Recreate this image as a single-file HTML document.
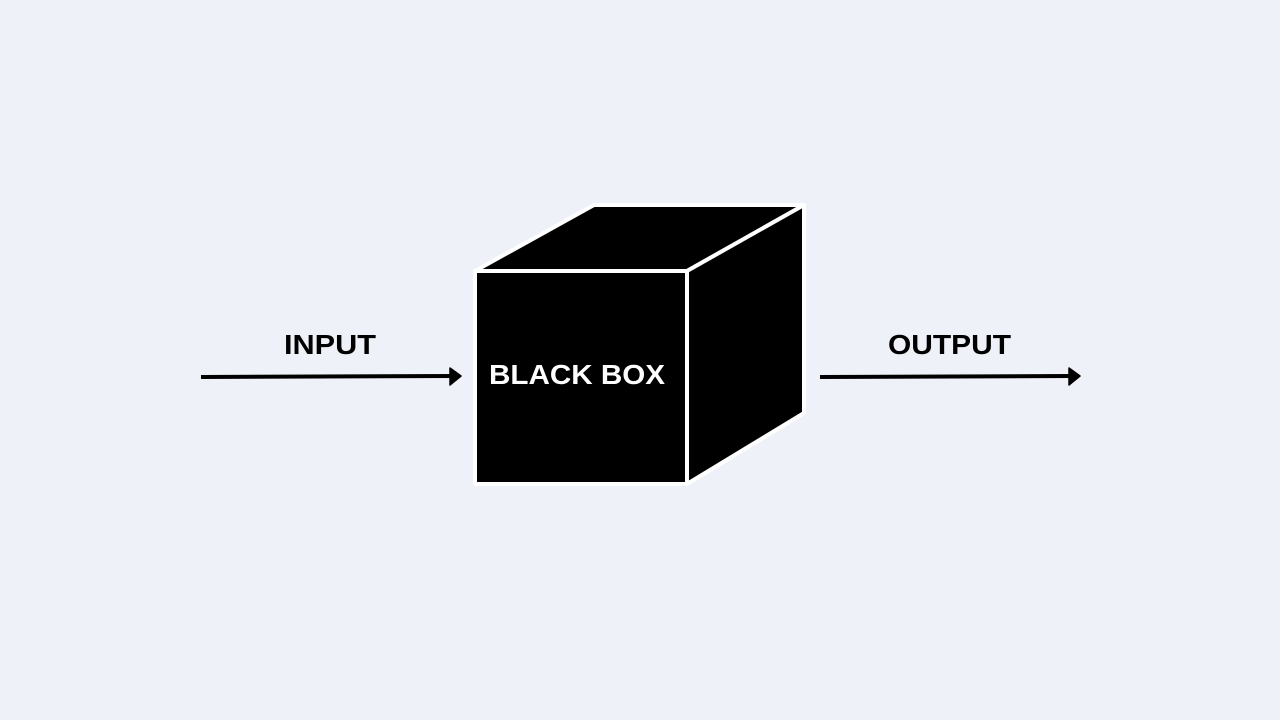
<!DOCTYPE html>
<html><head><style>html,body{margin:0;padding:0;background:#eef1f7;overflow:hidden;width:1280px;height:720px;}svg{display:block;}</style></head>
<body>
<svg width="1280" height="720" viewBox="0 0 1280 720" xmlns="http://www.w3.org/2000/svg">
<rect width="1280" height="720" fill="#eef1f7"/>
<g stroke="#fff" stroke-width="4" stroke-linejoin="round" fill="#000">
<polygon points="475,271 594,205 804,205 687,271"/>
<polygon points="687,271 804,205 804,413 687,484"/>
<rect x="475" y="271" width="212" height="213"/>
</g>
<g font-family="Liberation Sans, sans-serif" font-weight="bold" font-size="28">
<text x="489" y="384" fill="#fff" textLength="176" lengthAdjust="spacingAndGlyphs">BLACK BOX</text>
<text x="284" y="354" fill="#000" textLength="92" lengthAdjust="spacingAndGlyphs">INPUT</text>
<text x="888" y="354" fill="#000" textLength="123" lengthAdjust="spacingAndGlyphs">OUTPUT</text>
</g>
<g stroke="#000" stroke-width="4">
<line x1="201" y1="377" x2="454" y2="376"/>
<line x1="820" y1="377" x2="1073" y2="376"/>
</g>
<polygon points="450,368 461,376 450,385" fill="#000" stroke="#000" stroke-width="1.5" stroke-linejoin="round"/>
<polygon points="1069,368 1080,376 1069,385" fill="#000" stroke="#000" stroke-width="1.5" stroke-linejoin="round"/>
</svg>
</body></html>
